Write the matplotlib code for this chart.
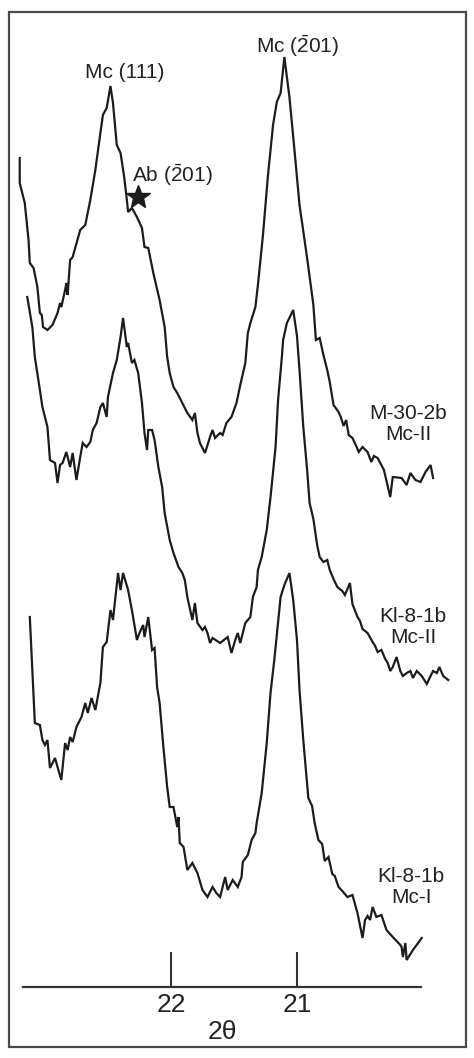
import matplotlib
matplotlib.use("Agg")
import matplotlib.pyplot as plt
from matplotlib.patches import Rectangle

plt.rcParams['font.family'] = ['Liberation Sans', 'DejaVu Sans']
plt.rcParams['mathtext.fontset'] = 'custom'
plt.rcParams['mathtext.rm'] = 'Liberation Sans'
plt.rcParams['mathtext.it'] = 'Liberation Sans:italic'
plt.rcParams['mathtext.bf'] = 'Liberation Sans:bold'

# ---------------- data (2theta in degrees, intensity in arbitrary stacked units) ----------------
m30_x = [23.20, 23.20, 23.16, 23.13, 23.12, 23.09, 23.06, 23.04, 23.025, 23.015, 22.98, 22.94, 22.90,
         22.88, 22.87, 22.84, 22.83, 22.82, 22.80, 22.78, 22.72, 22.68, 22.64, 22.60, 22.56, 22.54,
         22.51, 22.48, 22.46, 22.43, 22.40, 22.37, 22.35, 22.34, 22.31, 22.27, 22.23, 22.21, 22.18,
         22.14, 22.09, 22.05, 22.03, 22.01, 21.98, 21.95, 21.91, 21.87, 21.83, 21.81, 21.79, 21.77,
         21.73, 21.69, 21.67, 21.65, 21.61, 21.59, 21.56, 21.52, 21.48, 21.45, 21.41, 21.39, 21.37,
         21.33, 21.31, 21.27, 21.23, 21.19, 21.16, 21.13, 21.10, 21.06, 21.02, 20.98, 20.94, 20.91,
         20.87, 20.85, 20.82, 20.79, 20.76, 20.74, 20.71, 20.67, 20.65, 20.63, 20.61, 20.59, 20.56,
         20.53, 20.51, 20.48, 20.44, 20.41, 20.39, 20.36, 20.31, 20.26, 20.24, 20.17, 20.13, 20.10,
         20.06, 20.02, 19.98, 19.94, 19.92]
m30_y = [829, 804, 784, 747, 724, 719, 700, 674, 672, 660, 657, 662, 674,
         684, 680, 697, 704, 692, 727, 730, 757, 762, 787, 817, 854, 872,
         879, 901, 884, 842, 834, 809, 787, 775, 779, 770, 759, 740, 739,
         714, 687, 660, 630, 614, 600, 594, 584, 574, 567, 574, 554, 544,
         534, 550, 557, 549, 554, 552, 564, 570, 584, 602, 624, 654, 664,
         680, 702, 752, 812, 862, 885, 894, 930, 890, 837, 782, 747, 720,
         682, 647, 649, 632, 617, 605, 582, 575, 569, 561, 567, 552, 549,
         541, 535, 540, 535, 525, 531, 529, 517, 490, 510, 509, 502, 514,
         507, 505, 515, 522, 509]

kl_mc2_x = [23.14, 23.10, 23.08, 23.04, 23.02, 22.98, 22.96, 22.92, 22.90, 22.88, 22.86, 22.83, 22.80,
            22.78, 22.75, 22.72, 22.70, 22.67, 22.64, 22.62, 22.59, 22.56, 22.54, 22.51, 22.50, 22.46,
            22.43, 22.40, 22.38, 22.35, 22.34, 22.31, 22.29, 22.26, 22.23, 22.21, 22.19, 22.18, 22.15,
            22.13, 22.10, 22.07, 22.05, 22.01, 21.98, 21.94, 21.91, 21.89, 21.87, 21.83, 21.81, 21.79,
            21.75, 21.73, 21.71, 21.69, 21.67, 21.61, 21.55, 21.52, 21.49, 21.47, 21.45, 21.41, 21.37,
            21.35, 21.32, 21.31, 21.28, 21.24, 21.21, 21.17, 21.15, 21.12, 21.11, 21.08, 21.03, 21.00,
            20.98, 20.95, 20.92, 20.90, 20.87, 20.84, 20.82, 20.79, 20.76, 20.74, 20.71, 20.68, 20.64,
            20.62, 20.58, 20.56, 20.52, 20.50, 20.48, 20.44, 20.40, 20.38, 20.36, 20.33, 20.30, 20.28,
            20.26, 20.24, 20.21, 20.18, 20.16, 20.13, 20.10, 20.08, 20.05, 20.01, 19.97, 19.94, 19.92,
            19.89, 19.87, 19.84, 19.80]
kl_mc2_y = [690, 660, 630, 597, 580, 560, 527, 524, 504, 522, 524, 535, 520,
            534, 507, 530, 544, 540, 545, 557, 564, 580, 584, 570, 590, 614,
            627, 650, 669, 640, 644, 624, 627, 614, 584, 554, 537, 557, 557,
            547, 520, 500, 474, 447, 434, 420, 414, 407, 390, 367, 384, 364,
            357, 360, 354, 344, 349, 344, 350, 334, 347, 354, 344, 364, 370,
            390, 400, 417, 430, 457, 490, 540, 587, 630, 647, 664, 677, 651,
            617, 560, 518, 484, 468, 442, 430, 425, 427, 417, 408, 400, 396,
            392, 404, 383, 370, 366, 358, 354, 345, 341, 335, 337, 328, 324,
            316, 320, 330, 316, 311, 314, 316, 309, 316, 311, 303, 311, 316,
            314, 320, 311, 307]

kl_mc1_x = [23.12, 23.08, 23.04, 23.02, 23.00, 22.98, 22.96, 22.92, 22.90, 22.87, 22.84, 22.82, 22.80,
            22.78, 22.75, 22.71, 22.68, 22.66, 22.63, 22.60, 22.56, 22.54, 22.51, 22.48, 22.46, 22.42,
            22.40, 22.38, 22.34, 22.31, 22.27, 22.25, 22.22, 22.21, 22.18, 22.15, 22.13, 22.11, 22.09,
            22.06, 22.03, 22.01, 21.98, 21.95, 21.94, 21.93, 21.90, 21.87, 21.83, 21.79, 21.75, 21.71,
            21.67, 21.64, 21.61, 21.57, 21.55, 21.51, 21.47, 21.44, 21.43, 21.39, 21.36, 21.33, 21.32,
            21.28, 21.24, 21.21, 21.18, 21.13, 21.10, 21.06, 21.03, 21.00, 20.98, 20.95, 20.91, 20.88,
            20.86, 20.83, 20.80, 20.78, 20.75, 20.72, 20.70, 20.67, 20.64, 20.60, 20.56, 20.52, 20.48,
            20.46, 20.44, 20.42, 20.40, 20.37, 20.33, 20.29, 20.24, 20.18, 20.17, 20.16, 20.14, 20.13,
            20.08, 20.01]
kl_mc1_y = [370, 264, 262, 247, 242, 247, 219, 229, 220, 207, 244, 237, 250,
            245, 260, 270, 284, 274, 289, 277, 304, 340, 345, 377, 367, 414,
            397, 414, 397, 377, 347, 354, 362, 350, 370, 337, 339, 300, 284,
            240, 200, 180, 180, 160, 170, 144, 140, 117, 124, 114, 97, 90,
            100, 94, 90, 110, 97, 107, 100, 110, 125, 132, 147, 154, 164,
            194, 244, 294, 327, 390, 402, 414, 387, 347, 297, 247, 189, 181,
            164, 147, 143, 126, 130, 113, 111, 100, 96, 90, 92, 74, 49,
            67, 71, 67, 80, 70, 72, 57, 50, 42, 40, 30, 44, 27,
            37, 49]

x_ticks = [22, 21]
x_tick_labels = ['22', '21']
x_label = '2θ'

peak_labels = ['Mc (111)', r'Mc ($\mathregular{\bar{2}}$01)', r'Ab ($\mathregular{\bar{2}}$01)']
peak_label_x = [22.365, 20.996, 21.992]
peak_label_y = [909, 934, 805]
star_x = [22.262]
star_y = [790]

sample_labels = ['M-30-2b\nMc-II', 'Kl-8-1b\nMc-II', 'Kl-8-1b\nMc-I']
sample_label_x = [20.119, 20.079, 20.095]
sample_label_y = [563, 360, 100]

# ---------------- figure ----------------
W, H = 474, 1058
fig = plt.figure(figsize=(W / 100, H / 100), dpi=100)
ax = fig.add_axes([23 / W, 71 / H, 398 / W, 975 / H])
ax.set_xlim(23.174, 20.016)
ax.set_ylim(0, 975)

line_kw = dict(color='#1c1c1c', lw=1.6, clip_on=False, solid_joinstyle='miter')
ax.plot(m30_x, m30_y, **line_kw)
ax.plot(kl_mc2_x, kl_mc2_y, **line_kw)
ax.plot(kl_mc1_x, kl_mc1_y, **line_kw)

ax.plot(star_x, star_y, marker='*', ms=18, color='#1c1c1c', ls='none', clip_on=False)

for t, x, y in zip(peak_labels, peak_label_x, peak_label_y):
    ax.text(x, y, t, ha='center', va='baseline', fontsize=15, color='#222222')
for t, x, y in zip(sample_labels, sample_label_x, sample_label_y):
    ax.text(x, y, t, ha='center', va='center', multialignment='center',
            fontsize=15, color='#222222', linespacing=1.1)

for s in ['top', 'left', 'right']:
    ax.spines[s].set_visible(False)
ax.spines['bottom'].set_linewidth(1.6)
ax.spines['bottom'].set_color('#333333')
ax.set_yticks([])
ax.set_xticks(x_ticks)
ax.set_xticklabels(x_tick_labels)
ax.tick_params(axis='x', direction='in', length=25, width=1.5, color='#333333',
               labelsize=19, pad=4, labelcolor='#222222')
ax.set_xlabel(x_label, fontsize=19, color='#222222')
ax.xaxis.set_label_coords(0.5, -0.046)
ax.xaxis.label.set_va('center')
ax.patch.set_visible(False)

fig.add_artist(Rectangle((9 / W, 11 / H), 457 / W, 1035 / H, transform=fig.transFigure,
                         fill=False, lw=1.6, edgecolor='#4a4a4a'))

fig.savefig('out.png', dpi=100, facecolor='white')
